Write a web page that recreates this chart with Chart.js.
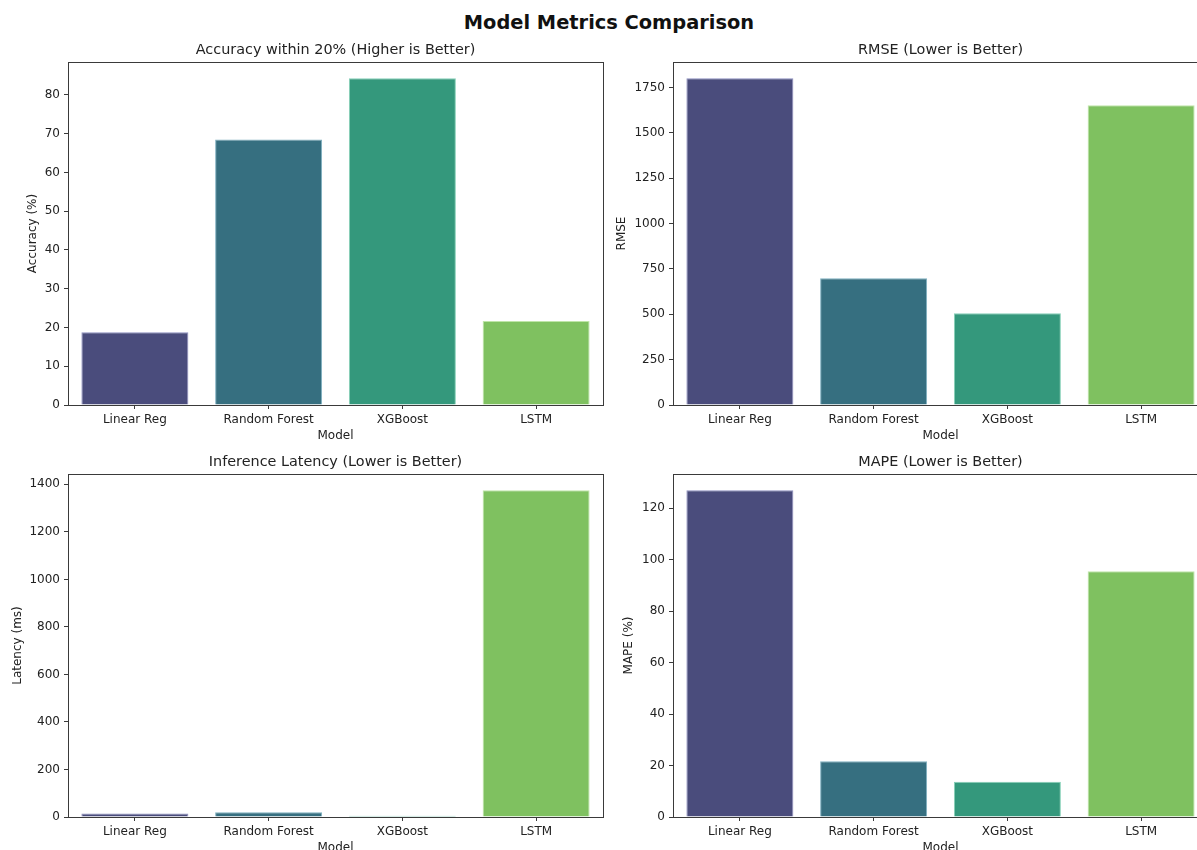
<!DOCTYPE html>
<html>
<head>
<meta charset="utf-8">
<script src="https://cdn.jsdelivr.net/npm/chart.js@4.4.1/dist/chart.umd.min.js"></script>
<style>
  html, body { margin: 0; padding: 0; background: #fff; overflow: hidden; width: 1197px; height: 850px; }
  #suptitle {
    position: absolute; left: 0; top: 11px; width: 1218px; line-height: 22px;
    text-align: center; font: bold 19.4px "DejaVu Sans", sans-serif; color: #111;
  }
  canvas { position: absolute; }
</style>
</head>
<body>
<div id="suptitle">Model Metrics Comparison</div>
<canvas id="acc" width="579" height="403" style="left:26px;top:40px"></canvas>
<canvas id="rmse" width="595" height="403" style="left:615px;top:40px"></canvas>
<canvas id="lat" width="594" height="403" style="left:11px;top:452px"></canvas>
<canvas id="mape" width="588" height="403" style="left:622px;top:452px"></canvas>
<script>
const models = ['Linear Reg', 'Random Forest', 'XGBoost', 'LSTM'];
const accuracy = [18.8, 68.5, 84.3, 21.7];
const rmse = [1800, 699, 506, 1651];
const latency = [15, 20, 5, 1375];
const mape = [127.0, 21.7, 13.7, 95.5];

const accTicks = [0, 10, 20, 30, 40, 50, 60, 70, 80];
const rmseTicks = [0, 250, 500, 750, 1000, 1250, 1500, 1750];
const latencyTicks = [0, 200, 400, 600, 800, 1000, 1200, 1400];
const mapeTicks = [0, 20, 40, 60, 80, 100, 120];

const barColors = ['#4a4c7c', '#366f80', '#34987c', '#7fc160'];
const edgeColors = ['#8d8fc0', '#7fb0c0', '#86d0b8', '#bfe6a8'];

const FONT = '"DejaVu Sans", sans-serif';
const INK = '#222';
const LINE = '#3a3a3a';

// draws the four matplotlib style spines
const boxPlugin = {
  id: 'box',
  afterDraw(chart) {
    const a = chart.chartArea, c = chart.ctx;
    c.save();
    c.strokeStyle = LINE;
    c.lineWidth = 1;
    c.strokeRect(Math.round(a.left) + 0.5, Math.round(a.top) + 0.5,
      Math.round(a.right - a.left), Math.round(a.bottom - a.top));
    c.restore();
  }
};

function makeChart(id, title, yLabel, values, ticks, yWidth) {
  const top = Math.max(...values) * 1.05;
  return new Chart(document.getElementById(id), {
    type: 'bar',
    data: {
      labels: models,
      datasets: [{
        data: values,
        backgroundColor: barColors,
        borderColor: edgeColors,
        borderWidth: 1,
        borderSkipped: 'bottom',
        barPercentage: 0.8,
        categoryPercentage: 1.0
      }]
    },
    options: {
      responsive: false,
      animation: false,
      devicePixelRatio: 1,
      layout: { padding: { left: 0, right: 2, top: 0, bottom: 0 } },
      plugins: {
        legend: { display: false },
        tooltip: { enabled: false },
        title: {
          display: true,
          fullSize: false,
          text: title,
          color: INK,
          font: { family: FONT, size: 14.4, weight: 'normal', lineHeight: 1.2 },
          padding: { top: 2, bottom: 2.7 }
        }
      },
      scales: {
        x: {
          offset: true,
          grid: { display: true, offset: false, drawOnChartArea: false, drawTicks: true, tickLength: 4, color: LINE },
          border: { display: false },
          ticks: { color: INK, font: { family: FONT, size: 12 }, padding: 4, maxRotation: 0, autoSkip: false },
          title: { display: true, text: 'Model', color: INK, font: { family: FONT, size: 12, lineHeight: 1.2 }, padding: 0 },
          afterFit(s) { s.height = 38; }
        },
        y: {
          min: 0,
          max: top,
          grid: { display: true, drawOnChartArea: false, drawTicks: true, tickLength: 4, color: LINE },
          border: { display: false },
          ticks: { color: INK, font: { family: FONT, size: 12 }, padding: 4, callback: v => String(v) },
          title: { display: true, text: yLabel, color: INK, font: { family: FONT, size: 12, lineHeight: 1.2 }, padding: 0 },
          afterBuildTicks(s) { s.ticks = ticks.map(v => ({ value: v })); },
          afterFit(s) { s.width = yWidth; }
        }
      }
    },
    plugins: [boxPlugin]
  });
}

makeChart('acc', 'Accuracy within 20% (Higher is Better)', 'Accuracy (%)', accuracy, accTicks, 42);
makeChart('rmse', 'RMSE (Lower is Better)', 'RMSE', rmse, rmseTicks, 58);
makeChart('lat', 'Inference Latency (Lower is Better)', 'Latency (ms)', latency, latencyTicks, 57);
makeChart('mape', 'MAPE (Lower is Better)', 'MAPE (%)', mape, mapeTicks, 51);
</script>
</body>
</html>
